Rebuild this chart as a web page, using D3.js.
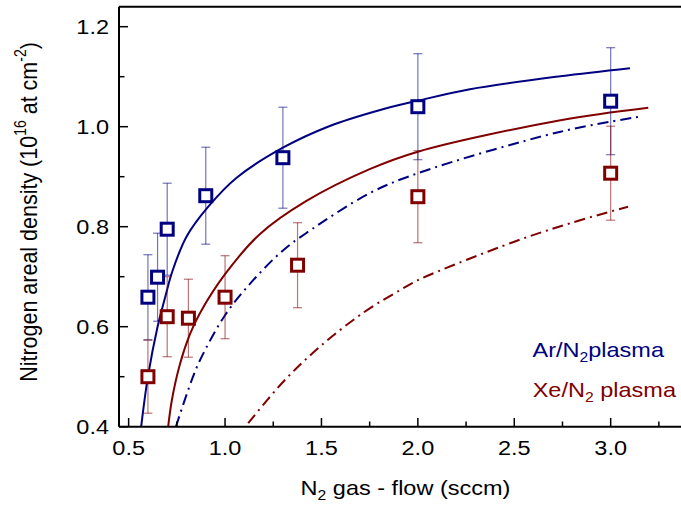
<!DOCTYPE html>
<html>
<head>
<meta charset="utf-8">
<script src="https://cdn.jsdelivr.net/npm/d3@7"></script>
<style>
  body { margin: 0; background: #fff; }
  svg { display: block; font-family: Arial, "Liberation Sans", sans-serif; }
</style>
</head>
<body>
<svg id="chart" width="681" height="505"></svg>
<script>
// measured points (Ar/N2 and Xe/N2 plasma)
const arFlow = [0.60, 0.65, 0.70, 0.90, 1.30, 2.00, 3.00]
const arDensity = [0.659, 0.699, 0.795, 0.862, 0.938, 1.040, 1.051]
const arError = [0.085, 0.088, 0.092, 0.097, 0.101, 0.106, 0.107]

const xeFlow = [0.60, 0.70, 0.81, 1.00, 1.376, 2.00, 3.00]
const xeDensity = [0.500, 0.620, 0.617, 0.659, 0.723, 0.860, 0.907]
const xeError = [0.073, 0.080, 0.078, 0.083, 0.085, 0.092, 0.094]

// model curves: [flow, density]
const arFit = [[0.565, 0.40], [0.60, 0.50], [0.65, 0.60], [0.69, 0.66], [0.726, 0.71], [0.80, 0.78], [0.913, 0.84],
  [1.06, 0.898], [1.30, 0.958], [1.54, 1.001], [1.80, 1.033], [2.00, 1.052], [2.27, 1.075], [2.74, 1.101], [3.10, 1.117]]
const xeFit = [[0.705, 0.40], [0.725, 0.455], [0.766, 0.525], [0.818, 0.585], [0.871, 0.628], [1.00, 0.705],
  [1.18, 0.785], [1.42, 0.851], [1.75, 0.915], [2.00, 0.95], [2.74, 1.013], [3.195, 1.038]]
const arFit2 = [[0.745, 0.40], [0.827, 0.493], [0.87, 0.533], [1.00, 0.623], [1.146, 0.693], [1.302, 0.753],
  [1.42, 0.787], [1.75, 0.867], [2.00, 0.907], [2.74, 0.99], [3.166, 1.021]]
const xeFit2 = [[1.12, 0.407], [1.302, 0.49], [1.492, 0.56], [1.717, 0.628], [1.907, 0.673], [2.00, 0.693],
  [2.50, 0.77], [2.79, 0.807], [3.09, 0.84]]

const xMajor = [0.5, 1.0, 1.5, 2.0, 2.5, 3.0]
const xMinor = [0.75, 1.25, 1.75, 2.25, 2.75, 3.25]
const yMajor = [0.4, 0.6, 0.8, 1.0, 1.2]
const yMinor = [0.5, 0.7, 0.9, 1.1]

const blue = '#000080'
const red = '#800000'
const stretch = 1.12 // the text in the figure is a bit wide

const svg = d3.select('#chart')
const x = d3.scaleLinear().domain([0.45, 3.4]).range([119, 687.8])
const y = d3.scaleLinear().domain([0.4, 1.24]).range([426.7, 6.7])

const plot = svg.append('g')

// curves
const line = d3.line().x(d => x(d[0])).y(d => y(d[1])).curve(d3.curveCatmullRom.alpha(0.5))
const curves = [
  { pts: arFit, color: blue, dash: null },
  { pts: xeFit, color: red, dash: null },
  { pts: arFit2, color: blue, dash: '11,5,2,5' },
  { pts: xeFit2, color: red, dash: '11,5,2,5' }
]
curves.forEach(c => {
  plot.append('path')
    .attr('d', line(c.pts))
    .attr('fill', 'none')
    .attr('stroke', c.color)
    .attr('stroke-width', 2)
    .attr('stroke-dasharray', c.dash)
})

// error bars + squares
function series(xs, ys, es, color) {
  const data = xs.map((v, i) => ({ x: v, y: ys[i], e: es[i] }))
  const bars = plot.append('g').selectAll('g').data(data).join('g')
    .attr('stroke', color).attr('stroke-opacity', 0.55).attr('stroke-width', 1.2)
  bars.append('line')
    .attr('x1', d => x(d.x)).attr('x2', d => x(d.x))
    .attr('y1', d => y(d.y - d.e)).attr('y2', d => y(d.y + d.e))
  bars.append('line')
    .attr('x1', d => x(d.x) - 4.5).attr('x2', d => x(d.x) + 4.5)
    .attr('y1', d => y(d.y + d.e)).attr('y2', d => y(d.y + d.e))
  bars.append('line')
    .attr('x1', d => x(d.x) - 4.5).attr('x2', d => x(d.x) + 4.5)
    .attr('y1', d => y(d.y - d.e)).attr('y2', d => y(d.y - d.e))
  return data
}
const arData = series(arFlow, arDensity, arError, blue)
const xeData = series(xeFlow, xeDensity, xeError, red)

function squares(data, color) {
  plot.append('g').selectAll('rect').data(data).join('rect')
    .attr('x', d => x(d.x) - 6).attr('y', d => y(d.y) - 6)
    .attr('width', 12).attr('height', 12)
    .attr('fill', '#fff').attr('stroke', color).attr('stroke-width', 3)
}
squares(arData, blue)
squares(xeData, red)

// frame (right side is cut off in the original)
const axes = svg.append('g').attr('stroke', '#000').attr('stroke-width', 2)
axes.append('line').attr('x1', 119).attr('x2', 681).attr('y1', 6.7).attr('y2', 6.7)
axes.append('line').attr('x1', 119).attr('x2', 681).attr('y1', 426.7).attr('y2', 426.7)
axes.append('line').attr('x1', 119).attr('x2', 119).attr('y1', 6.7).attr('y2', 426.7)

// ticks pointing inward
const ticks = svg.append('g').attr('stroke', '#000').attr('stroke-width', 1.5)
xMajor.forEach(v => ticks.append('line').attr('x1', x(v)).attr('x2', x(v)).attr('y1', 426.7).attr('y2', 418))
xMinor.forEach(v => ticks.append('line').attr('x1', x(v)).attr('x2', x(v)).attr('y1', 426.7).attr('y2', 421.5))
yMajor.forEach(v => ticks.append('line').attr('x1', 119).attr('x2', 128).attr('y1', y(v)).attr('y2', y(v)))
yMinor.forEach(v => ticks.append('line').attr('x1', 119).attr('x2', 124.5).attr('y1', y(v)).attr('y2', y(v)))

function label(px, py, anchor, size, rot) {
  return svg.append('text')
    .attr('transform', `translate(${px},${py}) scale(${stretch},1)` + (rot ? ` rotate(${rot})` : ''))
    .attr('text-anchor', anchor).attr('font-size', size)
}

const fmt = d3.format('.1f')
xMajor.forEach(v => label(x(v), 455, 'middle', 21).text(fmt(v)))
yMajor.forEach(v => label(109, y(v) + 7.5, 'end', 21).text(fmt(v)))

// axis titles
const xt = label(405.5, 495, 'middle', 21)
xt.append('tspan').text('N')
xt.append('tspan').attr('font-size', 14).attr('dy', 5).text('2')
xt.append('tspan').attr('dy', -5).text(' gas - flow (sccm)')

const yt = label(36.5, 212, 'middle', 21.5, -90)
yt.append('tspan').text('Nitrogen areal density (10')
yt.append('tspan').attr('font-size', 14).attr('dy', -9).text('16')
yt.append('tspan').attr('dy', 9).text(' at cm')
yt.append('tspan').attr('font-size', 14).attr('dy', -9).text('-2')
yt.append('tspan').attr('dy', 9).text(')')

// legend labels
const l1 = label(664, 357, 'end', 21).attr('fill', blue)
l1.append('tspan').text('Ar/N')
l1.append('tspan').attr('font-size', 14).attr('dy', 5).text('2')
l1.append('tspan').attr('dy', -5).text('plasma')

const l2 = label(676, 397, 'end', 21).attr('fill', red)
l2.append('tspan').text('Xe/N')
l2.append('tspan').attr('font-size', 14).attr('dy', 5).text('2')
l2.append('tspan').attr('dy', -5).text(' plasma')
</script>
</body>
</html>
